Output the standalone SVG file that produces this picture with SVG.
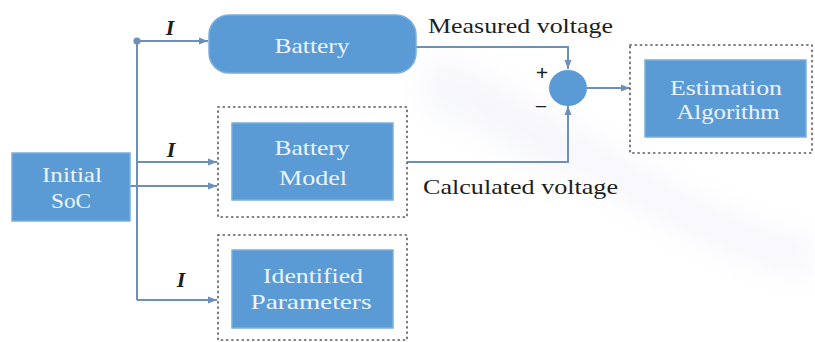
<svg xmlns="http://www.w3.org/2000/svg" width="815" height="342" viewBox="0 0 815 342">
  <style>
    .box { fill: #5b9bd5; stroke: #7aaedd; stroke-width: 1.5; }
    .frame { fill: none; stroke: #555; stroke-width: 1.6; stroke-dasharray: 1.2 4; stroke-linecap: round; }
    .lbl { font-family: "Liberation Serif", "DejaVu Serif", serif; font-size: 22px; fill: #edf3fb; text-anchor: middle; }
    .txt { font-family: "Liberation Serif", "DejaVu Serif", serif; font-size: 22px; fill: #1e1e1e; }
    .cur { font-family: "Liberation Serif", "DejaVu Serif", serif; font-size: 22px; font-style: italic; font-weight: bold; fill: #1e1e1e; }
    .wire { fill: none; stroke: #6d8fb8; stroke-width: 2; }
  </style>
  <defs>
    <marker id="arrow" markerWidth="10" markerHeight="8" refX="9" refY="4" orient="auto" markerUnits="userSpaceOnUse">
      <path d="M0,0.5 L9,4 L0,7.5 Z" fill="#6d8fb8"/>
    </marker>
    <filter id="soft" x="-20%" y="-50%" width="140%" height="200%">
      <feGaussianBlur stdDeviation="16"/>
    </filter>
  </defs>

  <rect width="815" height="342" fill="#ffffff"/>
  <!-- faint background swoosh -->
  <g filter="url(#soft)" opacity="0.3">
    <path d="M430,70 C520,110 600,170 700,220 C750,245 790,255 815,260" fill="none" stroke="#e2dff2" stroke-width="34"/>
    <path d="M420,95 C470,110 520,140 560,170" fill="none" stroke="#e6e9f4" stroke-width="26"/>
  </g>

  <!-- connectors -->
  <g id="connectors">
    <circle cx="137" cy="41" r="3.6" fill="#6d8fb8"/>
    <path class="wire" d="M137,41 L208,41" marker-end="url(#arrow)"/>
    <path class="wire" d="M137,41 L137,300"/>
    <path class="wire" d="M137,162 L217,162" marker-end="url(#arrow)"/>
    <path class="wire" d="M130,186 L217,186" marker-end="url(#arrow)"/>
    <path class="wire" d="M137,300 L217,300" marker-end="url(#arrow)"/>
    <path class="wire" d="M416,47 L568,47 L568,69" marker-end="url(#arrow)"/>
    <path class="wire" d="M407,162 L568,162 L568,106" marker-end="url(#arrow)"/>
    <path class="wire" d="M587,88 L630,88" marker-end="url(#arrow)"/>
    <text class="cur" x="170" y="35" text-anchor="middle">I</text>
    <text class="cur" x="171" y="157" text-anchor="middle">I</text>
    <text class="cur" x="181" y="287" text-anchor="middle">I</text>
    <text class="txt" x="428" y="33" textLength="185" lengthAdjust="spacingAndGlyphs">Measured voltage</text>
    <text class="txt" x="423" y="194" textLength="195" lengthAdjust="spacingAndGlyphs">Calculated voltage</text>
    <text class="txt" x="542" y="80" text-anchor="middle" font-size="24" font-weight="bold">+</text>
    <text class="txt" x="541" y="114" text-anchor="middle" font-size="24">−</text>
  </g>

  <g id="initial-soc">
    <rect class="box" x="12" y="153" width="118" height="68"/>
    <text class="lbl" x="72" y="182" textLength="60" lengthAdjust="spacingAndGlyphs">Initial</text>
    <text class="lbl" x="71" y="208" textLength="40" lengthAdjust="spacingAndGlyphs">SoC</text>
  </g>

  <g id="battery">
    <rect class="box" x="209" y="15" width="207" height="58" rx="20" ry="20"/>
    <text class="lbl" x="312" y="53" textLength="75" lengthAdjust="spacingAndGlyphs">Battery</text>
  </g>

  <g id="battery-model">
    <rect class="frame" x="218" y="107" width="189" height="110"/>
    <rect class="box" x="232" y="123" width="161" height="77"/>
    <text class="lbl" x="312" y="155" textLength="75" lengthAdjust="spacingAndGlyphs">Battery</text>
    <text class="lbl" x="313" y="185" textLength="68" lengthAdjust="spacingAndGlyphs">Model</text>
  </g>

  <g id="identified-parameters">
    <rect class="frame" x="218" y="235" width="189" height="105"/>
    <rect class="box" x="232" y="250" width="161" height="78"/>
    <text class="lbl" x="313" y="283" textLength="100" lengthAdjust="spacingAndGlyphs">Identified</text>
    <text class="lbl" x="311" y="309" textLength="121" lengthAdjust="spacingAndGlyphs">Parameters</text>
  </g>

  <g id="comparator">
    <ellipse cx="568" cy="88" rx="19" ry="18" fill="#5b9bd5"/>
  </g>

  <g id="estimation-algorithm">
    <rect class="frame" x="630" y="45" width="182" height="108"/>
    <rect class="box" x="645" y="60" width="161" height="77"/>
    <text class="lbl" x="726" y="95" textLength="112" lengthAdjust="spacingAndGlyphs">Estimation</text>
    <text class="lbl" x="728" y="119" textLength="103" lengthAdjust="spacingAndGlyphs">Algorithm</text>
  </g>
</svg>
